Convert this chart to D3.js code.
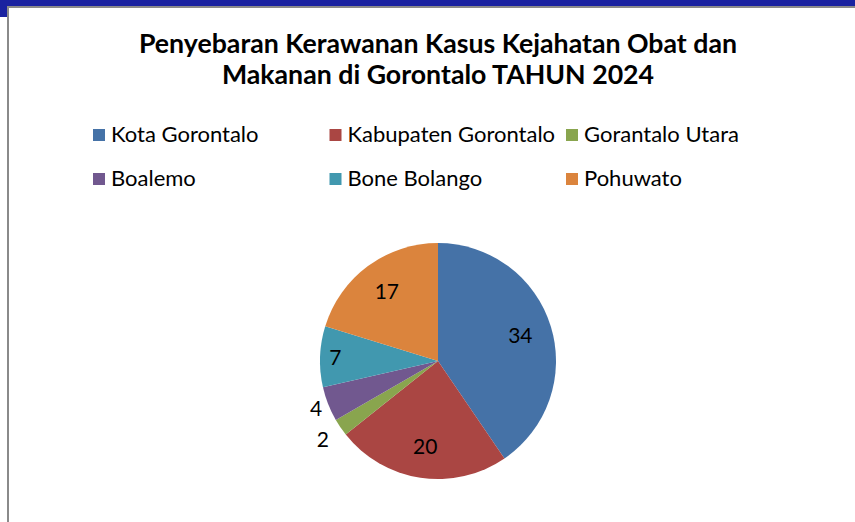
<!DOCTYPE html>
<html>
<head>
<meta charset="utf-8">
<script src="https://cdn.jsdelivr.net/npm/d3@7"></script>
<style>
  body { margin: 0; background: #fff; }
  svg { display: block; font-family: Lato, "Open Sans", sans-serif; }
</style>
</head>
<body>
<div id="main"></div>
<script>

// datas

const titleLines = ['Penyebaran Kerawanan Kasus Kejahatan Obat dan', 'Makanan di Gorontalo TAHUN 2024'];

const regions = ['Kota Gorontalo', 'Kabupaten Gorontalo', 'Gorantalo Utara', 'Boalemo', 'Bone Bolango', 'Pohuwato'];

const cases = [34, 20, 2, 4, 7, 17];

const colors = ['#4572A7', '#AA4643', '#89A54E', '#71588F', '#4198AF', '#DB843D'];

const w = 855;
const h = 522;

// svg

const svg = d3.select('#main').append('svg').attr('width', w).attr('height', h);

// slide frame (blue strip + grey border)

svg.append('rect').attr('x', 0).attr('y', 0).attr('width', w).attr('height', 7).attr('fill', '#1a22a0');
svg.append('rect').attr('x', 0).attr('y', 0).attr('width', 8).attr('height', 17).attr('fill', '#1a22a0');
svg.append('rect').attr('x', 7).attr('y', 6).attr('width', w - 7).attr('height', 2).attr('fill', '#8a8a8a');
svg.append('rect').attr('x', 7).attr('y', 6).attr('width', 2).attr('height', h - 6).attr('fill', '#8a8a8a');

// title

svg.append('g')
    .attr('class', 'title')
    .selectAll('text')
    .data(titleLines)
    .enter()
    .append('text')
    .attr('x', 438)
    .attr('y', (d, i) => 53 + i * 31)
    .attr('text-anchor', 'middle')
    .attr('font-size', 26.7)
    .attr('font-weight', 'bold')
    .attr('fill', '#000')
    .text(d => d);

// legend

const colX = d3.scalePoint().domain([0, 1, 2]).range([93, 566]);
const rowY = d3.scalePoint().domain([0, 1]).range([142, 186]);

const legend = svg.append('g')
    .attr('id', 'legend')
    .selectAll('g')
    .data(regions)
    .enter()
    .append('g')
    .attr('transform', (d, i) => `translate(${colX(i % 3)},${rowY(Math.floor(i / 3))})`);

legend.append('rect')
    .attr('x', 0)
    .attr('y', -13)
    .attr('width', 12)
    .attr('height', 12)
    .attr('fill', (d, i) => colors[i]);

legend.append('text')
    .attr('x', 18)
    .attr('y', 0)
    .attr('font-size', 22)
    .attr('fill', '#000')
    .text(d => d);

// pie

const cx = 438;
const cy = 361;
const r = 118;

const pie = d3.pie().sort(null).value(d => d);
const arc = d3.arc().innerRadius(0).outerRadius(r);

const arcs = pie(cases);

const g = svg.append('g')
    .attr('class', 'pie')
    .attr('transform', `translate(${cx},${cy})`);

g.selectAll('path')
    .data(arcs)
    .enter()
    .append('path')
    .attr('d', arc)
    .attr('fill', (d, i) => colors[i]);

// labels: small slices outside (best fit), others inside
const labelR = d => d.value < 5 ? r * (1.25 - d.value * 0.035) : d.value < 10 ? r * 0.87 : r * 0.73;

g.selectAll('text')
    .data(arcs)
    .enter()
    .append('text')
    .attr('transform', d => {
        const a = (d.startAngle + d.endAngle) / 2;
        const lr = labelR(d);
        return `translate(${Math.sin(a) * lr},${-Math.cos(a) * lr})`;
    })
    .attr('text-anchor', 'middle')
    .attr('dy', '0.36em')
    .attr('font-size', 21)
    .attr('fill', '#000')
    .text(d => d.data);

</script>
</body>
</html>
